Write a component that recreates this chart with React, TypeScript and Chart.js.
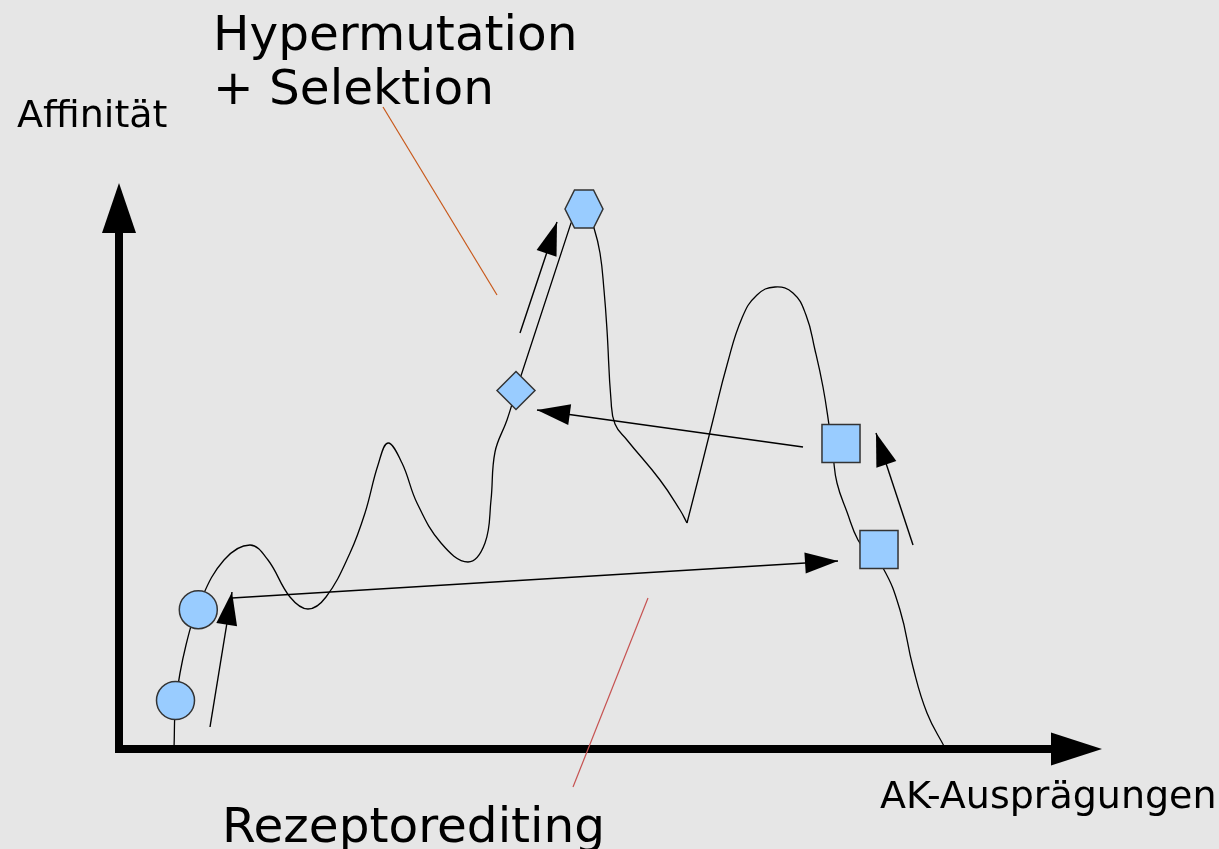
import React, { useEffect, useRef } from "react";
import { Chart, registerables } from "chart.js";

Chart.register(...registerables);

// ---- coordinate frame: x = "AK-Ausprägungen", y = "Affinität" (origin at the axes' corner)
const X_MIN = -119;
const X_MAX = 1100;
const Y_MIN = -100;
const Y_MAX = 749;

// ---- affinity landscape (split where the curve has corners)
const curveRise: [number, number][] = [
  [55, 1], [57, 49], [67, 104], [81, 147], [105, 189], [131, 204], [149, 189],
  [171, 152], [189, 140], [207, 152], [231, 196], [246, 236], [259, 284],
  [269, 306], [283, 286], [298, 246], [322, 206], [349, 187], [366, 206],
  [372, 249], [376, 297], [388, 329], [397, 358],
];
const curveClimb: [number, number][] = [[397, 358], [452, 526], [465, 540]];
const curveFall: [number, number][] = [
  [469, 535], [475, 521], [481, 496], [485, 459], [488, 419], [492, 349],
  [496, 325], [508, 309], [541, 269], [561, 239], [568, 226],
];
const curveHump: [number, number][] = [
  [568, 226], [581, 277], [594, 329], [608, 384], [623, 431], [638, 454],
  [656, 462], [674, 456], [687, 434], [696, 399], [704, 362], [710, 324],
  [714, 294], [718, 266], [728, 237], [739, 209], [751, 193], [764, 181],
  [781, 139], [794, 82], [808, 36], [826, 1],
];

// ---- B-cell markers on the landscape
const markerPos: [number, number][] = [
  [56.5, 48.5], [79.3, 139.3], [397, 358.5], [465, 540], [722, 305.5], [760, 199.5],
];
const markerShape = ["circle", "circle", "rectRot", "hexagon", "rect", "rect"];

// ---- thin arrows (from, to)
const arrows: [number, number, number, number][] = [
  [91, 22, 113, 157],
  [113, 151, 719, 188],
  [794, 204, 757, 316],
  [684, 302, 418, 339],
  [401, 416, 438, 527],
];

// ---- leader lines for the labels
const leaders: { from: [number, number]; to: [number, number]; color: string }[] = [
  { from: [264, 642], to: [378, 454], color: "#c8581a" },
  { from: [529, 151], to: [454, -38], color: "#c65352" },
];

// ---- text labels
const labels: { text: string; x: number; y: number; size: number }[] = [
  { text: "Affinität", x: -102, y: 622, size: 38 },
  { text: "Hypermutation", x: 94, y: 699, size: 48.5 },
  { text: "+ Selektion", x: 94, y: 645, size: 48.5 },
  { text: "Rezeptorediting", x: 103, y: -93, size: 48.5 },
  { text: "AK-Ausprägungen", x: 761, y: -59, size: 38 },
];

const FILL = "#99ccff";
const EDGE = "#333333";
const FONT = '"DejaVu Sans", sans-serif';

function makeHexagon(): HTMLCanvasElement {
  const c = document.createElement("canvas");
  c.width = 42;
  c.height = 42;
  const g = c.getContext("2d")!;
  const pts = [[-19, 0], [-9.5, -19], [9.5, -19], [19, 0], [9.5, 19], [-9.5, 19]];
  g.beginPath();
  pts.forEach(([x, y], i) => (i ? g.lineTo(21 + x, 21 + y) : g.moveTo(21 + x, 21 + y)));
  g.closePath();
  g.fillStyle = FILL;
  g.fill();
  g.lineWidth = 1.5;
  g.strokeStyle = EDGE;
  g.stroke();
  return c;
}

function head(ctx: CanvasRenderingContext2D, x0: number, y0: number, x1: number, y1: number, len: number, wid: number) {
  const a = Math.atan2(y1 - y0, x1 - x0);
  ctx.save();
  ctx.translate(x1, y1);
  ctx.rotate(a);
  ctx.beginPath();
  ctx.moveTo(0, 0);
  ctx.lineTo(-len, -wid / 2);
  ctx.lineTo(-len, wid / 2);
  ctx.closePath();
  ctx.fillStyle = "#000";
  ctx.fill();
  ctx.restore();
}

const toXY = (arr: [number, number][]) => arr.map(([x, y]) => ({ x, y }));

export default function App() {
  const ref = useRef<HTMLCanvasElement | null>(null);

  useEffect(() => {
    if (!ref.current) return;
    const hex = makeHexagon();

    const curveStyle = {
      showLine: true,
      borderColor: "#000",
      borderWidth: 1.3,
      pointRadius: 0,
      fill: false,
      order: 3,
    };

    const datasets: any[] = [
      { ...curveStyle, data: toXY(curveRise), tension: 0.4 },
      { ...curveStyle, data: toXY(curveClimb), tension: 0 },
      { ...curveStyle, data: toXY(curveFall), tension: 0.45 },
      { ...curveStyle, data: toXY(curveHump), tension: 0.45 },
      ...arrows.map((a) => ({
        data: [{ x: a[0], y: a[1] }, { x: a[2], y: a[3] }],
        showLine: true,
        borderColor: "#000",
        borderWidth: 1.4,
        pointRadius: 0,
        tension: 0,
        order: 2,
        isArrow: true,
      })),
      {
        data: toXY(markerPos),
        showLine: false,
        pointStyle: markerShape.map((s) => (s === "hexagon" ? hex : s)),
        pointRadius: markerShape.map((s) => (s === "rect" ? 26.9 : 19)),
        pointBackgroundColor: FILL,
        pointBorderColor: EDGE,
        pointBorderWidth: 1.5,
        order: 0,
      },
    ];

    const decor = {
      id: "decor",
      beforeDraw(chart: any) {
        const { ctx, width, height } = chart;
        ctx.save();
        ctx.fillStyle = "#e6e6e6";
        ctx.fillRect(0, 0, width, height);
        ctx.restore();
      },
      beforeDatasetsDraw(chart: any) {
        const { ctx } = chart;
        const sx = chart.scales.x;
        const sy = chart.scales.y;
        const px = (v: number) => sx.getPixelForValue(v);
        const py = (v: number) => sy.getPixelForValue(v);
        ctx.save();
        ctx.strokeStyle = "#000";
        ctx.lineWidth = 8;
        ctx.lineCap = "butt";
        // y axis
        ctx.beginPath();
        ctx.moveTo(px(0), py(-4));
        ctx.lineTo(px(0), py(518));
        ctx.stroke();
        head(ctx, px(0), py(0), px(0), py(566), 50, 34);
        // x axis
        ctx.beginPath();
        ctx.moveTo(px(-4), py(0));
        ctx.lineTo(px(934), py(0));
        ctx.stroke();
        head(ctx, px(0), py(0), px(983), py(0), 51, 33);
        ctx.restore();
      },
      afterDatasetsDraw(chart: any) {
        const { ctx } = chart;
        const sx = chart.scales.x;
        const sy = chart.scales.y;
        const px = (v: number) => sx.getPixelForValue(v);
        const py = (v: number) => sy.getPixelForValue(v);
        ctx.save();
        // arrow heads
        chart.data.datasets.forEach((ds: any, i: number) => {
          if (!ds.isArrow) return;
          const pts = chart.getDatasetMeta(i).data;
          head(ctx, pts[0].x, pts[0].y, pts[1].x, pts[1].y, 33, 21);
        });
        // leader lines
        ctx.lineWidth = 1.2;
        leaders.forEach((l) => {
          ctx.strokeStyle = l.color;
          ctx.beginPath();
          ctx.moveTo(px(l.from[0]), py(l.from[1]));
          ctx.lineTo(px(l.to[0]), py(l.to[1]));
          ctx.stroke();
        });
        // labels
        ctx.fillStyle = "#000";
        ctx.textAlign = "left";
        ctx.textBaseline = "alphabetic";
        labels.forEach((t) => {
          ctx.font = `${t.size}px ${FONT}`;
          ctx.fillText(t.text, px(t.x), py(t.y));
        });
        ctx.restore();
      },
    };

    const chart = new Chart(ref.current, {
      type: "scatter",
      data: { datasets },
      options: {
        animation: false,
        responsive: false,
        events: [],
        layout: { padding: 0, autoPadding: false },
        plugins: { legend: { display: false }, tooltip: { enabled: false }, title: { display: false } },
        scales: {
          x: { type: "linear", min: X_MIN, max: X_MAX, display: false },
          y: { type: "linear", min: Y_MIN, max: Y_MAX, display: false },
        },
      },
      plugins: [decor],
    });
    return () => chart.destroy();
  }, []);

  return (
    <div style={{ position: "absolute", left: 0, top: 0, width: 1219, height: 849, background: "#e6e6e6" }}>
      <canvas ref={ref} width={1219} height={849} style={{ display: "block", width: 1219, height: 849 }} />
    </div>
  );
}
